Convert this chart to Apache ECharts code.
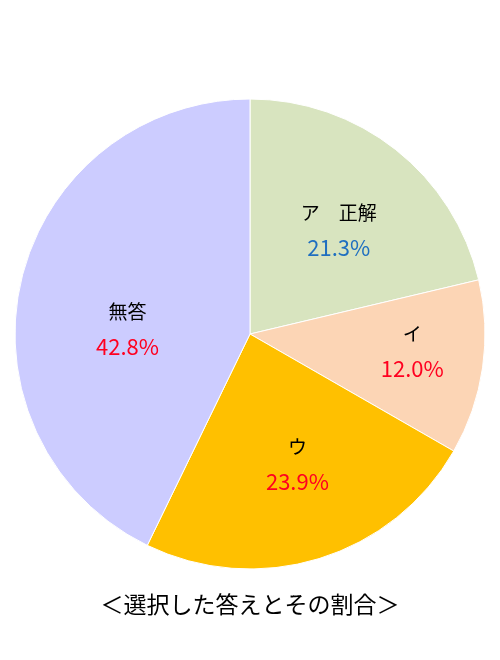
<!DOCTYPE html>
<html>
<head>
<meta charset="utf-8">
<script src="https://cdn.jsdelivr.net/npm/echarts@6/dist/echarts.min.js"></script>
<style>
html,body{margin:0;padding:0;background:#fff;}
#main{width:500px;height:660px;}
</style>
</head>
<body>
<div id="main"></div>
<script>
// 回答の割合（%）
var names = ['ア　正解', 'イ', 'ウ', '無答'];
var values = [21.3, 12.0, 23.9, 42.8];
var colors = ['#d8e4bf', '#fcd5b5', '#ffc000', '#ccccff'];
var pctColors = ['#1f6fc0', '#ff0020', '#ff0020', '#ff0020'];
var offsets = [[14, -9], [43, 0], [12, 15], [-5, 22]];

var myChart = echarts.init(document.getElementById('main'));

var pieData = names.map(function (n, i) {
    return {
        name: n,
        value: values[i],
        itemStyle: { color: colors[i] },
        label: {
            offset: offsets[i],
            rich: {
                n: { fontSize: 19, color: '#000', lineHeight: 35, fontFamily: 'Noto Sans CJK JP' },
                p: { fontSize: 22, color: pctColors[i], lineHeight: 35, fontFamily: 'Noto Sans CJK JP' }
            }
        }
    };
});

var option = {
    animation: false,
    title: {
        text: '＜選択した答えとその割合＞',
        left: 'center',
        top: 588,
        textStyle: { fontSize: 23, fontWeight: 'normal', color: '#000', fontFamily: 'Noto Sans CJK JP' }
    },
    series: [
        {
            type: 'pie',
            center: [250, 334],
            radius: 235,
            startAngle: 90,
            clockwise: true,
            avoidLabelOverlap: false,
            itemStyle: { borderColor: '#fff', borderWidth: 1 },
            label: {
                show: true,
                position: 'inside',
                formatter: function (p) {
                    return '{n|' + p.name + '}\n{p|' + p.value.toFixed(1) + '%}';
                }
            },
            labelLine: { show: false },
            data: pieData
        }
    ]
};
myChart.setOption(option);
</script>
</body>
</html>
